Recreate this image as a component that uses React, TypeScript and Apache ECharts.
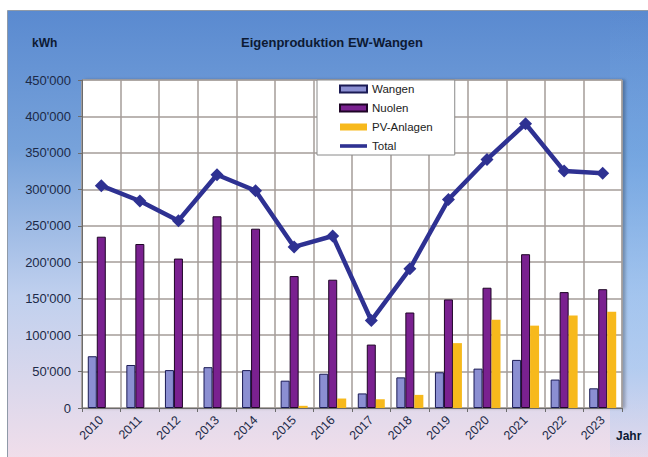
import React, { useEffect, useRef } from "react";
import * as echarts from "echarts";

const years = ["2010", "2011", "2012", "2013", "2014", "2015", "2016", "2017", "2018", "2019", "2020", "2021", "2022", "2023"];
const wangen = [71000, 59000, 52000, 56000, 52000, 37500, 47000, 20000, 42000, 49000, 54000, 66000, 39000, 27000];
const nuolen = [235000, 225000, 205000, 263000, 246000, 181000, 176000, 87000, 131000, 149000, 165000, 211000, 159000, 163000];
const pvAnlagen = [0, 0, 0, 0, 0, 3000, 13000, 12000, 18000, 89000, 121000, 113000, 127000, 132000];
const total = [305000, 284000, 257000, 320000, 298000, 221000, 236000, 120000, 191000, 286000, 341000, 390000, 325000, 322000];

const FONT = "'Liberation Sans', Arial, sans-serif";

function fmt(v: number): string {
  if (v === 0) return "0";
  const s = String(Math.round(v));
  return s.replace(/\B(?=(\d{3})+(?!\d))/g, "'");
}

export default function App() {
  const ref = useRef<HTMLDivElement>(null);
  useEffect(() => {
    if (!ref.current) return;
    const chart = echarts.init(ref.current, null, { renderer: "svg" });
    chart.setOption({
      animation: false,
      backgroundColor: "#ffffff",
      graphic: [
        {
          type: "rect",
          z: -10,
          shape: { x: 7.5, y: 10.5, width: 650, height: 460 },
          style: {
            fill: new echarts.graphic.LinearGradient(0, 0, 0, 1, [
              { offset: 0, color: "#5a8ad0" },
              { offset: 0.3, color: "#77a2da" },
              { offset: 0.62, color: "#c0d0ee" },
              { offset: 1, color: "#f4dfea" },
            ]),
            stroke: "#8f9aa8",
            lineWidth: 1,
          },
        },
        {
          type: "rect",
          z: -9,
          shape: { x: 610, y: 11, width: 40, height: 446 },
          style: {
            fill: new echarts.graphic.LinearGradient(0, 0, 0, 1, [
              { offset: 0, color: "rgba(110,165,230,0)" },
              { offset: 0.35, color: "rgba(110,168,232,0.45)" },
              { offset: 0.8, color: "rgba(150,195,242,0.55)" },
              { offset: 1, color: "rgba(170,200,242,0.15)" },
            ]),
          },
        },
        {
          type: "text",
          x: 32,
          y: 43,
          style: { text: "kWh", font: `bold 12px ${FONT}`, fill: "#0d1a33", textVerticalAlign: "middle" },
        },
        {
          type: "text",
          x: 332,
          y: 42,
          style: { text: "Eigenproduktion EW-Wangen", font: `bold 13px ${FONT}`, fill: "#0d1a33", textAlign: "center", textVerticalAlign: "middle" },
        },
        {
          type: "text",
          x: 616,
          y: 436,
          style: { text: "Jahr", font: `bold 12px ${FONT}`, fill: "#0d1a33", textVerticalAlign: "middle" },
        },
      ],
      grid: {
        left: 82,
        right: 26,
        top: 80,
        bottom: 49,
        show: true,
        backgroundColor: "#ffffff",
        borderColor: "#9a9a9a",
        borderWidth: 1,
        shadowColor: "rgba(0,0,0,0.25)",
        shadowBlur: 3,
        shadowOffsetX: 3,
        shadowOffsetY: 0,
      },
      legend: {
        orient: "vertical",
        left: 317,
        top: 80,
        backgroundColor: "#ffffff",
        borderColor: "#8a8a8a",
        borderWidth: 1,
        padding: [3, 22, 3, 22],
        itemWidth: 27,
        itemHeight: 7,
        itemGap: 7,
        textStyle: { fontSize: 11.5, color: "#222", fontFamily: FONT },
        data: [
          { name: "Wangen", icon: "rect" },
          { name: "Nuolen", icon: "rect" },
          { name: "PV-Anlagen", icon: "rect" },
          { name: "Total", icon: "path://M0,0h30v4h-30z" },
        ],
      },
      xAxis: {
        type: "category",
        data: years,
        boundaryGap: true,
        axisLine: { lineStyle: { color: "#6b6b6b", width: 1 } },
        axisTick: { show: true, length: 4, lineStyle: { color: "#6b6b6b" } },
        axisLabel: { rotate: 45, fontSize: 12.5, color: "#1c2a48", fontFamily: FONT, margin: 10, interval: 0 },
        splitLine: { show: true, lineStyle: { color: "#a49d98", width: 1.5 } },
      },
      yAxis: {
        type: "value",
        min: 0,
        max: 450000,
        interval: 50000,
        axisLine: { show: true, lineStyle: { color: "#6b6b6b", width: 1 } },
        axisTick: { show: true, length: 4, lineStyle: { color: "#6b6b6b" } },
        axisLabel: { fontSize: 13, color: "#1c2a48", fontFamily: FONT, margin: 11, formatter: (v: number) => fmt(v) },
        splitLine: { show: true, lineStyle: { color: "#a49d98", width: 1.5 } },
      },
      series: [
        {
          name: "Wangen",
          type: "bar",
          data: wangen,
          barWidth: 9,
          barGap: "0%",
          itemStyle: { color: "#8b8fd2", borderColor: "#1b1b55", borderWidth: 1 },
        },
        {
          name: "Nuolen",
          type: "bar",
          data: nuolen,
          barWidth: 9,
          barGap: "0%",
          itemStyle: { color: "#7a2190", borderColor: "#1e0526", borderWidth: 1 },
        },
        {
          name: "PV-Anlagen",
          type: "bar",
          data: pvAnlagen,
          barWidth: 9,
          barGap: "0%",
          itemStyle: { color: "#f7b91c" },
        },
        {
          name: "Total",
          type: "line",
          data: total,
          symbol: "diamond",
          symbolSize: 13,
          lineStyle: { color: "#2e3192", width: 4.5 },
          itemStyle: { color: "#2e3192" },
          z: 5,
        },
      ],
    });
    return () => chart.dispose();
  }, []);
  return <div ref={ref} style={{ position: "fixed", left: 0, top: 0, width: 648, height: 457 }} />;
}
